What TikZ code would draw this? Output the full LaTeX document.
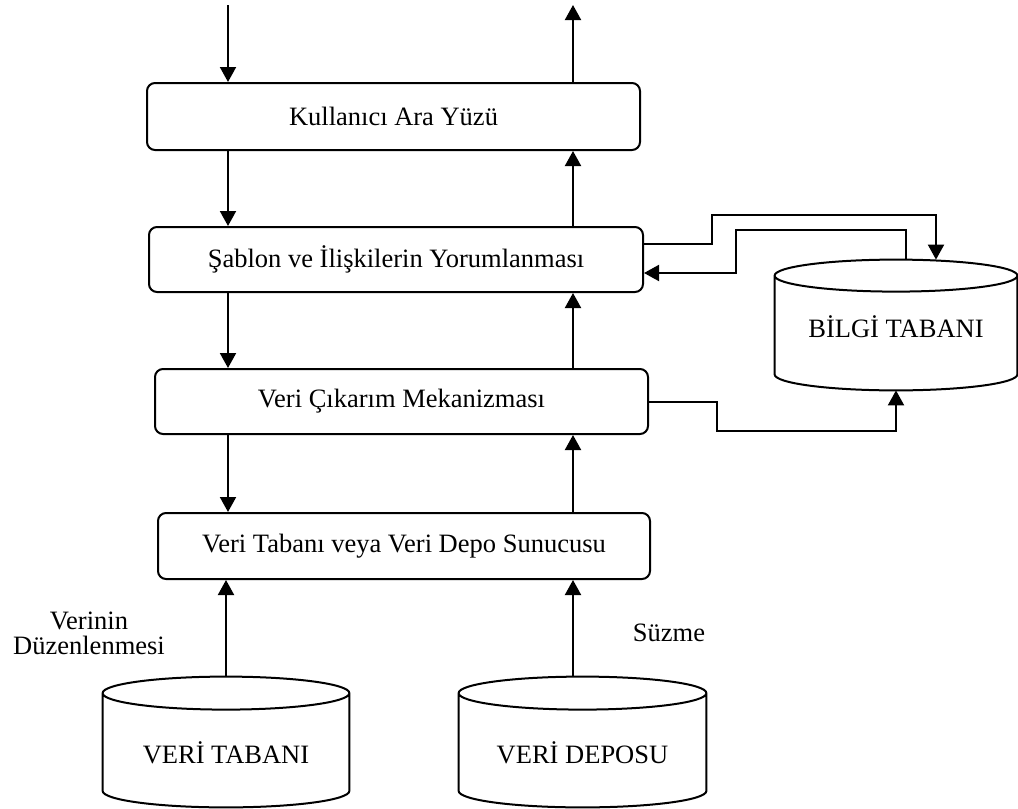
\documentclass[tikz,border=0pt]{standalone}
\usepackage{fontspec}
\setmainfont{Liberation Serif}
\usetikzlibrary{calc}
\usetikzlibrary{arrows.meta}
\tikzstyle{layer}=[draw,line width=1pt,rounded corners=4pt,inner sep=0pt]
\tikzstyle{flow}=[-{Triangle[length=7.5pt,width=8pt]},line width=1pt]
\tikzstyle{dbtext}=[minimum height=65pt,inner sep=0pt,text depth=0pt]
\newcommand{\drawdb}[2]{% Syntax: {node name}{half height of the ellipse}
  \draw[line width=1pt] let \p1=(#1.north west), \p2=(#1.south east), \n1={(\x2-\x1)/2} in
    ([yshift=-#2]#1.north) ellipse [x radius=\n1, y radius=#2]
    ([yshift=-#2]#1.north west) -- ([yshift=#2]#1.south west)
    arc[start angle=180, end angle=360, x radius=\n1, y radius=#2] -- ([yshift=-#2]#1.north east);
}

\begin{document}
\begin{tikzpicture}[x=0.5pt,y=0.5pt,font=\fontsize{13.25}{15}\selectfont]
  \useasboundingbox (0,0) rectangle (1018,-809);
  % the four layers
  \node[layer,minimum width=246.5pt,minimum height=33.5pt] (ui) at (393.5,-116.5) {Kullanıcı Ara Yüzü};
  \node[layer,minimum width=247pt,minimum height=32.5pt] (sablon) at (396,-259.5) {Şablon ve İlişkilerin Yorumlanması};
  \node[layer,minimum width=246.5pt,minimum height=32.5pt] (cikarim) at (401.5,-401.5) {Veri Çıkarım Mekanizması};
  \node[layer,minimum width=246pt,minimum height=33pt] (sunucu) at (404,-546) {Veri Tabanı veya Veri Depo Sunucusu};
  % databases
  \node[dbtext,minimum width=121pt,text height=12.8pt] (bilgi) at (896,-325) {BİLGİ TABANI};
  \node[dbtext,minimum width=123pt,text height=21.3pt] (vtabani) at (226,-742) {VERİ TABANI};
  \node[dbtext,minimum width=123.5pt,text height=21.3pt] (vdeposu) at (582.5,-742) {VERİ DEPOSU};
  \drawdb{bilgi}{8pt}
  \drawdb{vtabani}{8.25pt}
  \drawdb{vdeposu}{8.25pt}
  % down and up columns
  \coordinate (user in) at (228,-5);
  \coordinate (user out) at (573,-5);
  \draw[flow] (user in) -- (user in |- ui.north);
  \draw[flow] (ui.north -| user out) -- (user out);
  \foreach \a/\b in {ui/sablon,sablon/cikarim,cikarim/sunucu} {
    \draw[flow] (\a.south -| user in) -- (\b.north -| user in);
    \draw[flow] (\b.north -| user out) -- (\a.south -| user out);
  }
  \draw[flow] (vtabani.north) -- (vtabani.north |- sunucu.south);
  \draw[flow] (vdeposu.north -| user out) -- (sunucu.south -| user out);
  % links to the knowledge base
  \draw[flow] ([yshift=7.75pt]sablon.east) -| (712,-215) -| ([xshift=20pt]bilgi.north);
  \draw[flow] ([xshift=5pt]bilgi.north) -- ++(0,30) -| (736,-273) -- ([yshift=-6.75pt]sablon.east);
  \draw[flow] (cikarim.east) -| (717,-431) -| (bilgi.south);
  % labels
  \node[align=center,font=\fontsize{13.25}{12.5}\selectfont] (duzen) at (89,-633) {Verinin\\Düzenlenmesi};
  \node (suzme) at (669,-633) {Süzme};
\end{tikzpicture}
\end{document}
